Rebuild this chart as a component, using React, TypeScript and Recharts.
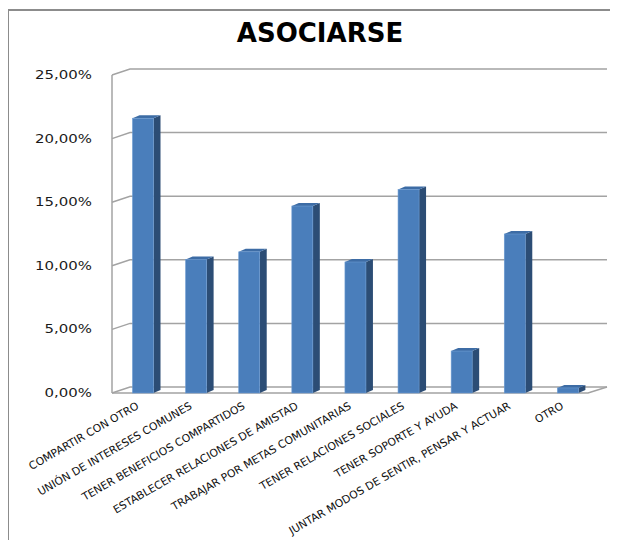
import { useEffect } from "react";
import { BarChart, Bar, XAxis, YAxis, CartesianGrid } from "recharts";

const categories = [
  "COMPARTIR CON OTRO",
  "UNIÓN DE INTERESES COMUNES",
  "TENER BENEFICIOS COMPARTIDOS",
  "ESTABLECER RELACIONES DE AMISTAD",
  "TRABAJAR POR METAS COMUNITARIAS",
  "TENER RELACIONES SOCIALES",
  "TENER SOPORTE Y AYUDA",
  "JUNTAR MODOS DE SENTIR, PENSAR Y ACTUAR",
  "OTRO",
];
const values = [0.216, 0.105, 0.111, 0.147, 0.103, 0.16, 0.033, 0.125, 0.004];
const yTicks = [0, 0.05, 0.1, 0.15, 0.2, 0.25];

const data = categories.map((name, i) => ({ name, value: values[i] }));

const DEPTH_X = 18;
const DEPTH_Y = 6;
const GRID = "#a3a3a3";
const FONT = "'DejaVu Sans', Verdana, sans-serif";

const fmt = (v: number) => (v * 100).toFixed(2).replace(".", ",") + "%";

// front face + side + top, shifted a bit back like the excel 3d columns
function Bar3D(props: any) {
  const { x, y, width, height } = props;
  if (height == null || width == null) return null;
  const bx = x + 4.5;
  const dx = 7;
  const dy = 3;
  return (
    <g>
      <polygon
        points={`${bx + width},${y} ${bx + width + dx},${y - dy} ${bx + width + dx},${y + height - dy} ${bx + width},${y + height}`}
        fill="#2c4d75"
      />
      <polygon
        points={`${bx},${y} ${bx + dx},${y - dy} ${bx + width + dx},${y - dy} ${bx + width},${y}`}
        fill="#3d6ca5"
      />
      <rect x={bx} y={y} width={width} height={height} fill="#4a7ebb" stroke="#6c9bd2" strokeWidth={0.6} />
    </g>
  );
}

function GridLine(props: any) {
  const { x1, x2, y1, index } = props;
  const by = y1 - DEPTH_Y;
  return (
    <g key={`g-${index}`}>
      <polyline
        points={`${x1},${y1} ${x1 + DEPTH_X},${by} ${x2 + DEPTH_X - 1},${by}`}
        fill="none"
        stroke={GRID}
        strokeWidth={1.5}
      />
      {index === 0 && (
        <polyline
          points={`${x1},${y1} ${x2 - 2},${y1} ${x2 + DEPTH_X - 1},${by}`}
          fill="none"
          stroke={GRID}
          strokeWidth={1.5}
        />
      )}
    </g>
  );
}

function YTick(props: any) {
  const { x, y, payload } = props;
  return (
    <g transform={`translate(${x},${y}) scale(1.3,1)`}>
      <text textAnchor="end" dy="0.35em" fontSize={11.5} fontFamily={FONT} fill="#1a1a1a">
        {fmt(payload.value)}
      </text>
    </g>
  );
}

function XTick(props: any) {
  const { x, y, payload } = props;
  return (
    <g transform={`translate(${x + 1},${y - 1}) rotate(-30)`}>
      <text textAnchor="end" fontSize={10.8} fontFamily={FONT} fill="#111">
        {payload.value}
      </text>
    </g>
  );
}

export default function App() {
  useEffect(() => {
    document.documentElement.style.overflow = "hidden";
  }, []);

  return (
    <div style={{ position: "relative", width: 618, height: 548, margin: -8, overflow: "hidden", background: "#fff" }}>
      <div style={{ position: "absolute", left: 581, top: 0, width: 37, height: 7, background: "#9bc83f" }} />
      <div style={{ position: "absolute", left: 7, top: 9, width: 611, height: 2, background: "#8c8c8c" }} />
      <div style={{ position: "absolute", left: 7, top: 9, width: 2, height: 539, background: "#8c8c8c" }} />
      <div
        style={{
          position: "absolute",
          left: 120,
          top: 18,
          width: 400,
          textAlign: "center",
          fontFamily: FONT,
          fontWeight: "bold",
          fontSize: 26,
          color: "#000",
        }}
      >
        ASOCIARSE
      </div>
      <div style={{ position: "absolute", left: 0, top: 0 }}>
        <BarChart width={618} height={548} data={data} margin={{ top: 75, right: 28, bottom: 5, left: 32 }}>
          <CartesianGrid vertical={false} horizontal={(p: any) => <GridLine {...p} />} />
          <XAxis
            dataKey="name"
            height={150}
            axisLine={false}
            tickLine={false}
            interval={0}
            tick={<XTick />}
            tickMargin={10}
          />
          <YAxis
            width={80}
            domain={[0, 0.25]}
            ticks={yTicks}
            axisLine={{ stroke: GRID, strokeWidth: 1.5 }}
            tickLine={false}
            tickSize={0}
            tickMargin={20}
            tick={<YTick />}
          />
          <Bar dataKey="value" barSize={21} shape={<Bar3D />} isAnimationActive={false} />
        </BarChart>
      </div>
    </div>
  );
}
